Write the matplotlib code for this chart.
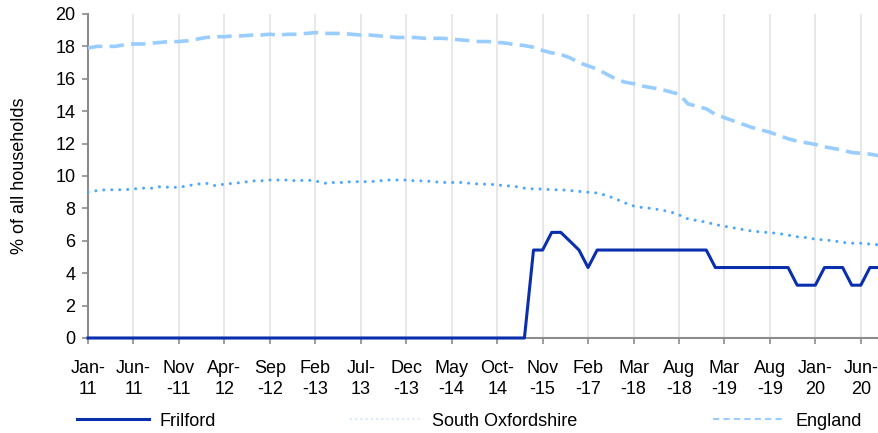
import matplotlib
matplotlib.use('Agg')
import matplotlib.pyplot as plt
from matplotlib.lines import Line2D

plt.rcParams['font.family'] = ['Liberation Sans', 'DejaVu Sans']

# category axis, one label every 5 points
tick_labels = ['Jan-\n11', 'Jun-\n11', 'Nov\n-11', 'Apr-\n12', 'Sep\n-12', 'Feb\n-13',
               'Jul-\n13', 'Dec\n-13', 'May\n-14', 'Oct-\n14', 'Nov\n-15', 'Feb\n-17',
               'Mar\n-18', 'Aug\n-18', 'Mar\n-19', 'Aug\n-19', 'Jan-\n20', 'Jun-\n20']

frilford = [0.0] * 49 + [
    5.43, 5.43, 6.52, 6.52, 5.98, 5.43, 4.35,
    5.43, 5.43, 5.43, 5.43, 5.43, 5.43, 5.43, 5.43, 5.43, 5.43, 5.43, 5.43, 5.43,
    4.35, 4.35, 4.35, 4.35, 4.35, 4.35, 4.35, 4.35, 4.35,
    3.26, 3.26, 3.26,
    4.35, 4.35, 4.35,
    3.26, 3.26,
    4.35, 4.35]

south_oxon = [9.0, 9.1, 9.15, 9.15, 9.15, 9.2, 9.25, 9.25, 9.35, 9.3,
              9.3, 9.4, 9.5, 9.55, 9.4, 9.5, 9.55, 9.6, 9.7, 9.7,
              9.75, 9.75, 9.75, 9.7, 9.75, 9.7, 9.55, 9.6, 9.6, 9.65,
              9.65, 9.65, 9.7, 9.75, 9.75, 9.75, 9.7, 9.7, 9.65, 9.6,
              9.6, 9.6, 9.55, 9.5, 9.5, 9.45, 9.4, 9.35, 9.25, 9.2,
              9.2, 9.15, 9.15, 9.1, 9.05, 9.0, 8.95, 8.8, 8.6, 8.35,
              8.15, 8.05, 8.0, 7.9, 7.8, 7.6, 7.35, 7.25, 7.15, 7.0,
              6.9, 6.8, 6.7, 6.6, 6.55, 6.5, 6.45, 6.35, 6.25, 6.2,
              6.1, 6.05, 6.0, 5.9, 5.85, 5.85, 5.8, 5.75]

england = [17.9, 18.0, 18.0, 18.0, 18.1, 18.15, 18.15, 18.2, 18.25, 18.3,
           18.3, 18.35, 18.45, 18.55, 18.6, 18.6, 18.65, 18.65, 18.7, 18.7,
           18.75, 18.7, 18.75, 18.75, 18.8, 18.85, 18.8, 18.8, 18.8, 18.75,
           18.7, 18.7, 18.65, 18.6, 18.55, 18.55, 18.55, 18.5, 18.5, 18.5,
           18.45, 18.4, 18.35, 18.3, 18.3, 18.25, 18.2, 18.1, 18.05, 17.95,
           17.75, 17.6, 17.5, 17.3, 17.0, 16.8, 16.6, 16.3, 16.0, 15.8,
           15.7, 15.55, 15.45, 15.35, 15.2, 15.05, 14.45, 14.3, 14.15, 13.8,
           13.6, 13.4, 13.2, 13.0, 12.85, 12.7, 12.5, 12.3, 12.15, 12.05,
           11.95, 11.8, 11.7, 11.6, 11.45, 11.4, 11.35, 11.25]

x = list(range(len(england)))
c_fril = '#0a2fad'
c_south = '#4da6ff'
c_eng = '#99ccff'
fs = 13

fig = plt.figure(figsize=(8.79, 4.33), dpi=100)
ax = fig.add_axes([88 / 879, 95 / 433, 1 - 88 / 879, 324 / 433])

ax.plot(x, england, color=c_eng, lw=2.6, linestyle=(0, (4, 2)), zorder=3)
ax.plot(x, south_oxon, color=c_south, lw=2.2, linestyle=(0, (0.01, 2.6)),
        dash_capstyle='round', zorder=3)
ax.plot(x, frilford, color=c_fril, lw=2.2, zorder=4, clip_on=False)

ax.set_xlim(0, len(x) - 1)
ax.set_ylim(0, 20)
ax.set_yticks(range(0, 21, 2))
ax.set_xticks(range(0, len(x), 5))
ax.set_xticklabels(tick_labels, linespacing=1.3)
ax.tick_params(axis='both', labelsize=fs, color='#8c8c8c', length=4, width=1.2)
ax.tick_params(axis='x', pad=12)
ax.tick_params(axis='y', pad=5)
ax.xaxis.grid(True, color='#e8e8e8', lw=1.4)
ax.set_axisbelow(True)

for s in ['top', 'right']:
    ax.spines[s].set_visible(False)
for s in ['left', 'bottom']:
    ax.spines[s].set_color('#8c8c8c')
    ax.spines[s].set_linewidth(1.5)

ax.set_ylabel('% of all households', fontsize=fs)
ax.yaxis.set_label_coords(-0.076, 0.5)

# legend entries spread along the bottom
entries = [
    (77, Line2D([], [], color=c_fril, lw=2.2), 'Frilford'),
    (350, Line2D([], [], color='#d6eafc', lw=1.5, linestyle=(0, (1, 1.5))), 'South Oxfordshire'),
    (713, Line2D([], [], color=c_eng, lw=1.5, linestyle=(0, (3, 2))), 'England'),
]
for xpos, h, lab in entries:
    fig.legend([h], [lab], loc='center left', bbox_to_anchor=(xpos / 879, 12 / 433),
               frameon=False, fontsize=fs, handlelength=4.0, handletextpad=0.55,
               borderpad=0, borderaxespad=0)

fig.savefig('out.png', dpi=100)
